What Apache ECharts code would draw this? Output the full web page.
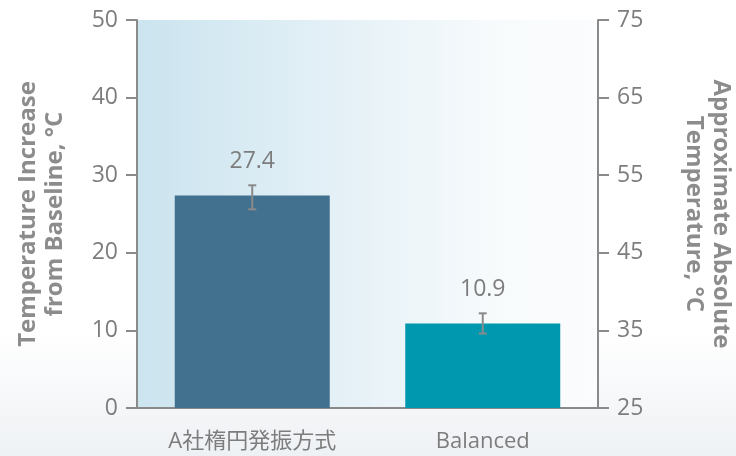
<!DOCTYPE html>
<html>
<head>
<meta charset="utf-8">
<script src="https://cdn.jsdelivr.net/npm/echarts@6/dist/echarts.min.js"></script>
<style>
  html, body { margin: 0; padding: 0; }
  body { width: 736px; height: 456px;
         background: linear-gradient(to bottom, #ffffff 0%, #ffffff 72%, #eef1f4 100%); }
  #chart { width: 736px; height: 456px; }
</style>
</head>
<body>
<div id="chart"></div>
<script>
// Device categories and measured temperature rise
const categories = ['A社楕円発振方式', 'Balanced'];
const tempIncrease = [27.4, 10.9];
const errLow = [25.6, 9.6];
const errHigh = [28.7, 12.2];
const barColors = ['#42708f', '#0098ae'];

// Tick labels
const leftTicks = [0, 10, 20, 30, 40, 50];
const rightTicks = [25, 35, 45, 55, 65, 75];

const FONT = '"Open Sans", "Noto Sans CJK JP", sans-serif';
const AXIS_GREY = '#8a8a8a';
const TEXT_GREY = '#7d7d7d';

const chart = echarts.init(document.getElementById('chart'), null, { renderer: 'canvas' });

const valueAxisBase = {
  type: 'value',
  min: leftTicks[0],
  max: leftTicks[leftTicks.length - 1],
  interval: leftTicks[1] - leftTicks[0],
  splitLine: { show: false },
  axisLine: { show: true, lineStyle: { color: AXIS_GREY, width: 2 } },
  axisTick: { show: true, length: 11, lineStyle: { color: AXIS_GREY, width: 2 } },
  nameLocation: 'middle',
  nameTextStyle: { color: '#8c8c8c', fontSize: 24, fontWeight: 'bold', fontFamily: FONT, lineHeight: 27 }
};

chart.setOption({
  backgroundColor: 'transparent',
  animation: false,
  grid: {
    left: 137, right: 138, top: 20, bottom: 48,
    outerBoundsMode: 'none',
    containLabel: false,
    show: true,
    borderWidth: 0,
    backgroundColor: {
      type: 'linear', x: 0, y: 0, x2: 1, y2: 0,
      colorStops: [
        { offset: 0, color: '#cbe4ef' },
        { offset: 0.45, color: '#e5f1f7' },
        { offset: 0.8, color: '#f8fbfc' },
        { offset: 1, color: '#fbfcfd' }
      ]
    }
  },
  xAxis: {
    type: 'category',
    data: categories,
    axisLine: { show: true, lineStyle: { color: AXIS_GREY, width: 2 } },
    axisTick: { show: false },
    axisLabel: { color: TEXT_GREY, fontSize: 22, fontFamily: FONT, margin: 23 }
  },
  yAxis: [
    Object.assign({}, valueAxisBase, {
      position: 'left',
      name: 'Temperature Increase\nfrom Baseline, °C',
      nameGap: 68,
      nameRotate: 90,
      axisLabel: { color: TEXT_GREY, fontSize: 23, fontFamily: FONT, margin: 19 }
    }),
    Object.assign({}, valueAxisBase, {
      position: 'right',
      name: 'Approximate Absolute\nTemperature, °C',
      nameGap: 82,
      nameRotate: -90,
      axisLabel: {
        color: TEXT_GREY, fontSize: 23, fontFamily: FONT, margin: 19,
        formatter: v => String(rightTicks[leftTicks.indexOf(v)])
      }
    })
  ],
  series: [
    {
      type: 'bar',
      yAxisIndex: 0,
      barWidth: 155,
      data: tempIncrease.map((v, i) => ({ value: v, itemStyle: { color: barColors[i] } })),
      label: {
        show: true, position: 'top', distance: 22,
        color: TEXT_GREY, fontSize: 23, fontFamily: FONT,
        formatter: p => p.value.toFixed(1)
      },
      z: 2
    },
    {
      type: 'custom',
      yAxisIndex: 0,
      data: categories.map((c, i) => [i, errLow[i], errHigh[i]]),
      renderItem: (params, api) => {
        const x = api.coord([api.value(0), 0])[0];
        const lo = api.coord([api.value(0), api.value(1)])[1];
        const hi = api.coord([api.value(0), api.value(2)])[1];
        const cap = 4;
        const style = { stroke: '#8a8a8a', lineWidth: 2 };
        return {
          type: 'group',
          children: [
            { type: 'line', shape: { x1: x, y1: hi, x2: x, y2: lo }, style },
            { type: 'line', shape: { x1: x - cap, y1: hi, x2: x + cap, y2: hi }, style },
            { type: 'line', shape: { x1: x - cap, y1: lo, x2: x + cap, y2: lo }, style }
          ]
        };
      },
      z: 3
    }
  ]
});
</script>
</body>
</html>
